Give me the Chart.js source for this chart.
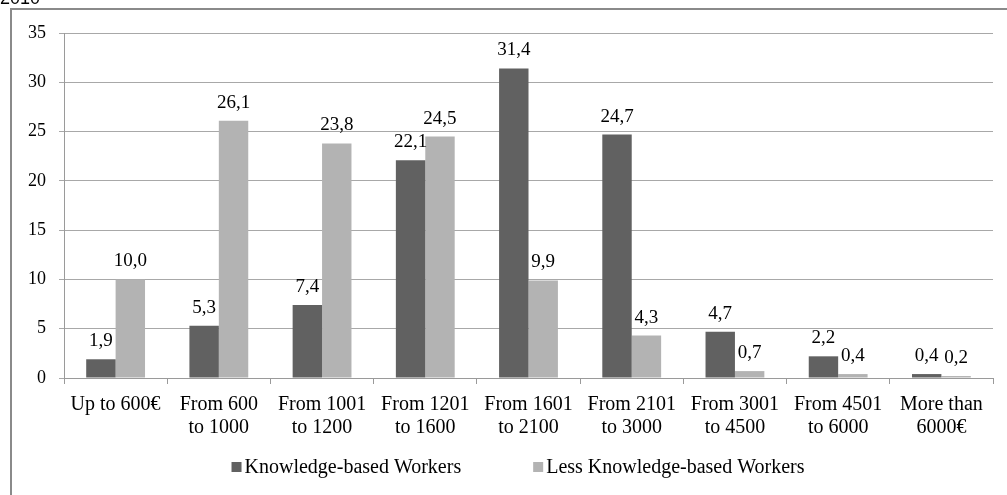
<!DOCTYPE html>
<html>
<head>
<meta charset="utf-8">
<script src="https://cdn.jsdelivr.net/npm/chart.js@4/dist/chart.umd.min.js"></script>
<style>
  html, body { margin: 0; padding: 0; background: #fff; overflow: hidden; }
  #wrap { position: relative; width: 1007px; height: 495px; }
  canvas { display: block; }
</style>
</head>
<body>
<div id="wrap"><canvas id="c" width="1007" height="495"></canvas></div>
<script>
// Monthly net income brackets (percent of workers), 2010
const yearLabel = '2010';
const categories = [
  ['Up to 600€'],
  ['From 600', 'to 1000'],
  ['From 1001', 'to 1200'],
  ['From 1201', 'to 1600'],
  ['From 1601', 'to 2100'],
  ['From 2101', 'to 3000'],
  ['From 3001', 'to 4500'],
  ['From 4501', 'to 6000'],
  ['More than', '6000€']
];
const knowledgeWorkers = [1.9, 5.3, 7.4, 22.1, 31.4, 24.7, 4.7, 2.2, 0.4];
const lessKnowledgeWorkers = [10.0, 26.1, 23.8, 24.5, 9.9, 4.3, 0.7, 0.4, 0.2];
const seriesNames = ['Knowledge-based Workers', 'Less Knowledge-based Workers'];
const yTicks = [0, 5, 10, 15, 20, 25, 30, 35];

const SERIF = '"Liberation Serif", "Times New Roman", serif';
const fmt = v => v.toFixed(1).replace('.', ',');

// Outer frame, year caption, value labels and legend
const decorations = {
  id: 'decorations',
  afterDraw(chart) {
    const ctx = chart.ctx;
    ctx.save();
    // frame
    ctx.strokeStyle = '#8a8a8a';
    ctx.lineWidth = 2;
    ctx.beginPath();
    ctx.moveTo(11, 520);
    ctx.lineTo(11, 9);
    ctx.lineTo(1020, 9);
    ctx.stroke();

    // year caption, clipped by the top of the page
    ctx.fillStyle = '#000';
    ctx.font = '18px "Liberation Sans", Arial, sans-serif';
    ctx.textAlign = 'left';
    ctx.textBaseline = 'alphabetic';
    ctx.fillText(yearLabel, 0, 4);

    // value labels above bars
    ctx.font = '19px ' + SERIF;
    ctx.textAlign = 'center';
    ctx.textBaseline = 'alphabetic';
    chart.data.datasets.forEach((ds, i) => {
      const meta = chart.getDatasetMeta(i);
      meta.data.forEach((bar, j) => {
        ctx.fillText(fmt(ds.data[j]), bar.x, bar.y - 13);
      });
    });

    // legend
    ctx.font = '20px ' + SERIF;
    ctx.textAlign = 'left';
    ctx.textBaseline = 'middle';
    const box = 10, gapText = 3, gapItem = 72, yMid = 467;
    const widths = chart.data.datasets.map(ds => box + gapText + ctx.measureText(ds.label).width);
    const total = widths.reduce((a, b) => a + b, 0) + gapItem * (widths.length - 1);
    let x = 518 - total / 2;
    chart.data.datasets.forEach((ds, i) => {
      ctx.fillStyle = ds.backgroundColor;
      ctx.fillRect(x, yMid - box / 2, box, box);
      ctx.fillStyle = '#000';
      ctx.fillText(ds.label, x + box + gapText, yMid + 1);
      x += widths[i] + gapItem;
    });
    ctx.restore();
  }
};

new Chart(document.getElementById('c'), {
  type: 'bar',
  data: {
    labels: categories,
    datasets: [
      {
        label: seriesNames[0],
        data: knowledgeWorkers,
        backgroundColor: '#616161',
        categoryPercentage: 0.57,
        barPercentage: 1.0
      },
      {
        label: seriesNames[1],
        data: lessKnowledgeWorkers,
        backgroundColor: '#b3b3b3',
        categoryPercentage: 0.57,
        barPercentage: 1.0
      }
    ]
  },
  options: {
    responsive: false,
    animation: false,
    devicePixelRatio: 1,
    layout: { padding: { left: 0, top: 33, right: 14, bottom: 0 } },
    plugins: {
      legend: { display: false },
      tooltip: { enabled: false }
    },
    scales: {
      x: {
        grid: {
          offset: true,
          drawOnChartArea: false,
          drawTicks: true,
          tickLength: 6,
          color: '#9a9a9a',
          lineWidth: 1
        },
        border: { color: '#9a9a9a', width: 1 },
        ticks: {
          color: '#000',
          font: { family: SERIF, size: 20, lineHeight: 1.15 },
          padding: 9,
          maxRotation: 0,
          autoSkip: false
        },
        afterFit(scale) { scale.height = 117; }
      },
      y: {
        min: 0,
        max: 35,
        afterBuildTicks(scale) { scale.ticks = yTicks.map(v => ({ value: v })); },
        grid: {
          color: '#a8a8a8',
          lineWidth: 1,
          tickLength: 5
        },
        border: { color: '#9a9a9a', width: 1 },
        ticks: {
          color: '#000',
          font: { family: SERIF, size: 18 },
          padding: 13
        },
        afterFit(scale) { scale.width = 64; }
      }
    }
  },
  plugins: [decorations]
});
</script>
</body>
</html>
